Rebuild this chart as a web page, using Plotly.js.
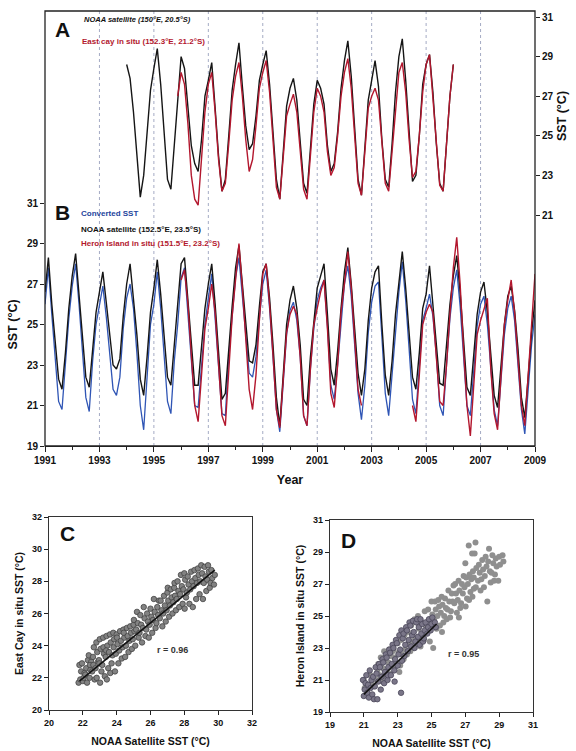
<!DOCTYPE html>
<html>
<head>
<meta charset="utf-8">
<script src="https://cdn.plot.ly/plotly-3.0.1.min.js"></script>
<style>html,body{margin:0;padding:0;background:#fff;}#chart{width:576px;height:751px;}</style>
</head>
<body>
<div id="chart"></div>
<script>
// ---------------- DATA ----------------
// Panel B: sampled every 1/8 year from 1991.0 to 2009.0
const tStartB = 1991, tStepB = 0.125;
const noaaB = [
26.6,28.3,26.0,24.0,22.3,21.8,23.6,25.8,
27.4,28.5,26.6,24.6,22.4,21.9,23.9,25.6,
26.6,27.6,26.1,24.5,23.0,22.8,23.3,25.4,
27.0,28.0,26.4,24.5,22.3,21.5,23.4,25.6,
26.8,28.2,26.5,24.3,22.4,22.0,24.0,25.7,
28.0,28.3,26.2,24.0,22.0,22.0,23.8,25.8,
27.0,28.0,26.0,23.8,21.3,21.6,24.0,25.9,
27.8,28.9,27.0,25.2,23.2,23.1,24.0,25.9,
27.6,28.0,26.3,24.0,21.4,20.0,22.8,25.0,
26.2,26.9,25.8,24.0,21.3,21.0,23.4,25.3,
26.8,27.4,28.0,25.5,22.8,22.0,23.7,25.8,
27.6,28.8,27.0,24.8,22.6,21.5,22.8,25.2,
26.8,27.6,27.9,25.0,22.5,21.5,23.2,25.5,
27.2,28.6,26.8,24.5,22.4,21.8,23.6,25.8,
26.5,27.9,26.0,24.2,22.1,22.0,24.0,26.0,
27.4,28.4,26.6,24.0,21.9,21.5,23.5,25.5,
26.6,27.1,25.6,23.6,21.5,20.9,23.0,25.0,
26.4,26.9,25.7,23.8,21.4,20.4,22.4,24.6,
26.2];
const convertedB = [
26.0,27.8,25.5,23.4,21.2,20.8,23.0,25.3,
26.9,28.0,26.0,23.9,21.4,20.7,23.2,25.0,
25.9,26.9,25.4,23.6,21.8,21.5,22.4,24.8,
26.3,27.0,25.8,23.6,21.0,19.8,22.6,25.0,
26.0,27.6,25.8,23.5,21.2,20.6,23.2,25.0,
27.3,27.8,25.6,23.3,21.0,20.9,22.9,25.0,
26.3,27.5,25.3,23.1,20.6,20.5,23.4,25.4,
27.3,28.3,26.4,24.4,22.6,22.4,23.4,25.3,
27.0,27.7,25.8,23.4,20.8,19.7,22.3,24.5,
25.7,26.1,25.2,23.4,20.5,20.0,22.8,24.8,
26.2,26.8,27.2,24.9,22.0,21.3,23.0,25.2,
27.0,27.9,26.4,24.0,21.6,20.3,22.0,24.6,
26.1,26.9,27.1,24.4,21.6,20.5,22.5,24.9,
26.6,28.1,26.2,23.8,21.3,20.6,22.8,25.2,
25.8,26.5,25.4,23.5,21.0,20.5,23.0,25.3,
26.8,27.7,25.9,23.3,21.0,20.5,22.8,24.9,
26.0,26.4,25.0,23.0,20.8,20.0,22.4,24.5,
25.8,26.4,25.2,23.2,20.8,19.6,21.8,24.0,
25.5];
const heronB = [
null,null,null,null,null,null,null,null,
null,null,null,null,null,null,null,null,
null,null,null,null,null,null,null,null,
null,null,null,null,null,null,null,null,
null,null,null,null,null,null,null,null,
27.2,27.7,26.0,23.6,21.0,20.2,22.6,24.8,
25.8,27.0,25.6,23.0,20.5,20.0,22.8,25.4,
27.2,29.0,26.8,24.5,21.8,20.8,22.5,25.2,
27.5,28.0,26.0,23.5,20.8,19.9,22.4,24.6,
25.5,25.9,25.5,23.4,20.5,20.0,22.8,25.0,
25.8,26.6,27.2,24.8,21.6,20.9,23.0,25.6,
27.0,28.6,26.8,24.2,21.8,21.0,null,null,
null,null,null,null,null,null,null,null,
null,null,null,null,21.0,20.2,22.5,25.0,
25.6,26.0,25.6,23.4,21.2,21.0,23.0,25.5,
27.8,29.3,27.0,23.8,21.0,19.5,22.0,24.5,
25.2,25.7,26.3,22.8,20.6,19.8,22.6,25.0,
26.2,27.2,25.6,23.2,21.0,20.0,22.5,25.0,
27.5];

// Panel A: sampled every 1/8 year from 1994.0 to 2006.0
const tStartA = 1994, tStepA = 0.125;
const noaaA = [
28.6,27.9,26.2,24.0,21.9,23.0,25.2,27.3,
28.4,29.4,27.6,25.0,22.8,22.3,24.6,27.2,
29.0,28.4,26.5,24.5,23.6,23.2,24.8,27.0,
27.8,28.7,26.4,24.0,22.2,22.8,25.0,27.3,
28.6,29.7,27.5,25.5,24.3,24.6,26.0,27.8,
28.6,29.3,27.6,25.0,22.8,21.8,24.0,26.5,
27.4,27.9,26.8,24.6,22.6,22.1,24.4,26.6,
27.8,27.4,26.6,24.5,23.2,23.6,25.2,27.4,
28.8,29.8,28.0,25.2,22.8,22.0,24.2,26.8,
27.8,28.8,27.5,24.8,22.8,22.4,24.6,27.2,
29.0,29.9,27.8,25.0,22.7,23.0,25.0,27.6,
28.6,29.1,27.2,24.6,22.6,22.2,24.5,27.0,
28.6];
const eastCayA = [
null,null,null,null,null,null,null,null,
null,null,null,null,null,null,null,27.0,
28.2,27.6,25.6,23.0,21.8,21.5,23.8,26.2,
27.6,28.2,26.2,23.8,22.2,22.6,24.6,26.8,
28.0,28.7,27.0,24.8,23.2,23.8,25.5,27.4,
28.2,28.8,27.2,24.6,22.4,21.8,23.8,26.0,
26.6,27.1,26.2,24.2,22.3,21.8,24.0,26.2,
27.4,27.0,26.2,24.2,23.0,23.4,25.0,27.0,
28.2,28.9,27.4,24.8,22.6,22.0,24.0,26.4,
27.0,27.4,26.8,24.5,22.6,22.2,24.2,26.6,
28.2,28.7,27.2,24.8,22.9,23.2,25.0,27.2,
28.6,29.1,27.0,24.5,22.5,22.2,24.5,27.0,
28.6];

const yearTicks = [1991,1993,1995,1997,1999,2001,2003,2005,2007,2009];

// Panel C: NOAA satellite (x) vs East Cay in situ (y)
const cNoaa = [
21.75,21.85,21.9,21.8,
22.0,22.1,21.95,22.05,
22.2,22.3,22.15,22.25,
22.4,22.45,22.35,22.5,22.42,
22.6,22.65,22.55,22.7,22.62,
22.8,22.85,22.75,22.9,22.82,
23.0,23.05,22.95,23.1,23.02,22.98,
23.2,23.25,23.15,23.3,23.22,
23.4,23.45,23.35,23.5,23.42,23.38,
23.6,23.65,23.55,23.7,23.62,
23.8,23.85,23.75,23.9,23.82,
24.0,24.05,23.95,24.1,24.02,
24.2,24.25,24.15,24.3,
24.4,24.45,24.35,24.5,24.42,
24.6,24.65,24.55,24.7,
24.8,24.85,24.75,24.9,
25.0,25.05,24.95,25.1,25.02,
25.2,25.25,25.15,25.3,
25.4,25.45,25.35,25.5,
25.6,25.65,25.55,25.7,
25.8,25.85,25.75,25.9,
26.0,26.05,25.95,26.1,
26.2,26.25,26.15,26.3,
26.4,26.45,26.35,26.5,
26.6,26.65,26.55,26.7,
26.8,26.85,26.75,26.9,
27.0,27.05,26.95,27.1,27.02,
27.2,27.25,27.15,27.3,
27.4,27.45,27.35,27.5,27.42,
27.6,27.65,27.55,27.7,
27.8,27.85,27.75,27.9,
28.0,28.05,27.95,28.1,28.02,
28.2,28.25,28.15,28.3,
28.4,28.45,28.35,28.5,
28.6,28.65,28.55,28.7,
28.8,28.85,28.75,28.9,
29.0,29.05,28.95,29.1,
29.2,29.25,29.15,29.3,
29.4,29.45,29.35,29.5,
29.6,29.65,29.55,
29.8,29.75];
const cEastCay = [
21.7,21.9,22.4,22.8,
21.8,22.3,22.9,22.0,
22.6,23.1,22.2,21.7,
22.0,22.5,23.4,23.0,22.8,
23.3,23.9,22.4,21.9,22.8,
24.2,23.6,22.6,23.0,22.0,
24.4,23.8,23.1,22.4,21.7,22.9,
24.5,23.5,22.8,22.1,23.9,
24.6,24.0,23.3,22.6,21.9,23.7,
24.7,24.2,23.6,22.9,22.3,
24.8,24.4,23.4,22.4,23.9,
24.7,24.1,23.5,22.9,24.5,
24.9,24.3,23.7,23.2,
25.0,24.5,23.9,23.3,24.8,
25.1,24.6,24.0,23.6,
25.2,24.8,24.3,23.8,
25.3,24.9,24.4,24.0,25.6,
26.1,25.4,25.0,24.5,
25.9,25.3,24.8,24.2,
26.4,25.7,25.1,24.6,
26.0,25.5,25.0,24.5,
26.3,25.8,25.3,24.8,
26.9,26.1,25.6,25.1,
26.4,25.9,25.4,26.8,
26.8,26.2,25.7,25.2,
27.1,26.5,26.0,25.5,
27.3,26.8,26.2,25.8,27.6,
27.5,27.0,26.5,26.0,
27.6,27.1,26.7,26.2,27.9,
28.0,27.4,26.9,26.4,
28.4,27.7,27.2,26.6,
28.5,28.1,27.5,27.0,26.3,
28.3,27.8,27.3,26.6,
28.6,28.0,27.5,26.4,
28.7,28.2,27.7,26.9,
28.8,28.4,27.9,27.2,
29.0,28.5,28.0,26.9,
28.9,28.3,27.9,27.4,
29.0,28.6,28.1,27.6,
28.7,28.2,27.9,
28.4,27.8];
const cFitX = [21.8, 29.8];
const cFitY = [21.8, 28.7];

// Panel D: NOAA satellite (x) vs Heron Island in situ (y)
const dNoaaLight = [
21.0,21.05, 21.4,21.45, 21.8,21.85,21.75,
22.0,22.05,21.95,22.1, 22.2,22.25,22.15,22.3,
22.4,22.45,22.35,22.5, 22.6,22.65,22.55,22.7,
22.8,22.85,22.75, 23.0,23.05,22.95,23.1,
23.2,23.25,23.15, 23.4,23.45,23.35, 23.6,23.65,23.55,
23.8,23.85,23.75, 24.0,24.05,23.95,24.1, 24.2,24.25,24.15,
24.4,24.45,24.35, 24.6,24.65,24.55, 24.8,24.85,24.75,24.9,
25.0,25.05,24.95,25.1, 25.2,25.25,25.15,25.3,
25.4,25.45,25.35,25.5, 25.6,25.65,25.55,25.7,25.62,
25.8,25.85,25.75,25.9, 26.0,26.05,25.95,26.1,
26.2,26.25,26.15,26.3, 26.4,26.45,26.35,26.5,
26.6,26.65,26.55,26.7,26.62, 26.8,26.85,26.75,26.9,
27.0,27.05,26.95,27.1,27.02, 27.2,27.25,27.15,27.3,27.22,
27.4,27.45,27.35,27.5,27.42, 27.6,27.55,27.65,27.5,27.62,
27.8,27.85,27.75,27.9, 28.0,28.05,27.95,28.1,
28.2,28.25,28.15,28.3, 28.4,28.35,28.45,28.5,
28.6,28.65,28.55,28.7, 28.8,28.85,28.75,
29.0,29.05,28.95, 29.2,29.25];
const dHeronLight = [
21.0,20.5, 21.3,20.8, 21.5,22.0,21.0,
22.4,21.8,21.3,20.9, 22.8,22.3,21.7,21.2,
22.6,22.1,21.5,22.9, 22.5,21.9,21.4,22.8,
22.4,21.8,22.9, 23.3,22.7,22.0,21.5,
23.5,22.6,21.9, 23.8,22.9,22.3, 24.0,23.2,22.6,
24.4,23.4,22.8, 24.8,23.6,23.0,23.3, 25.0,24.2,23.5,
24.6,23.8,23.1, 25.3,24.4,23.5, 25.4,24.7,24.0,23.4,
25.9,25.1,24.4,23.0, 25.9,25.4,24.8,24.2,
26.0,25.6,25.0,24.4, 26.2,25.7,25.2,24.6,24.0,
26.1,25.5,25.0,24.8, 26.6,25.9,25.4,24.9,
26.4,25.9,25.3,26.9, 27.0,26.4,25.8,25.2,
27.2,26.6,26.0,25.5,24.9, 27.0,26.4,25.8,27.5,
28.3,27.4,26.8,26.1,25.6, 29.4,27.6,27.0,26.5,26.0,
28.9,27.8,27.3,26.7,26.2, 29.6,28.9,28.0,27.4,26.8,
28.2,27.7,27.2,26.6, 28.5,27.9,27.3,26.8,
28.7,28.1,27.5,25.9, 29.2,28.4,27.8,27.1,
28.8,28.3,27.7,27.2, 28.6,28.1,27.6,
28.7,28.2,27.2, 28.8,28.4];
const dNoaaDark = [
21.0,21.05,20.95,21.1, 21.2,21.25,21.15,21.3,
21.4,21.45,21.35,21.5, 21.6,21.65,21.55,21.7,
21.8,21.85,21.75,21.9, 22.0,22.05,21.95,22.1,
22.2,22.25,22.15,22.3, 22.4,22.45,22.35,22.5,22.42,
22.6,22.65,22.55,22.7, 22.8,22.85,22.75,22.9,22.82,
23.0,23.05,22.95,23.1, 23.2,23.25,23.15,23.3,23.22,
23.4,23.45,23.35,23.5, 23.6,23.65,23.55,23.7,
23.8,23.85,23.75,23.9, 24.0,24.05,23.95,24.1,
24.2,24.25,24.15,24.3, 24.4,24.45,24.35,24.5,
24.6,24.65,24.55, 24.8,24.85,24.75, 25.0,25.05,24.95,
25.2,25.25];
const dHeronDark = [
20.0,20.4,21.0,20.8, 20.2,20.7,21.3,19.9,
20.5,21.0,21.6,20.1, 19.8,20.6,21.2,21.8,
19.8,20.9,21.4,22.0, 20.4,21.2,21.8,22.3,
20.8,21.5,22.1,22.6, 21.0,21.8,22.4,22.9,21.3,
21.3,22.0,22.7,23.2, 21.6,22.3,23.0,23.5,20.9,
21.9,22.6,23.3,23.8, 20.2,22.2,22.9,23.6,24.1,
22.5,23.2,23.9,24.3, 22.8,23.5,24.1,24.6,
23.1,23.8,24.4,24.7, 23.0,23.4,24.0,24.6,
23.7,24.3,24.8,23.2, 23.9,24.5,24.8,23.4,
24.1,24.6,23.6, 24.3,24.8,23.9, 24.5,24.9,24.1,
24.6,24.3];
const dFitX = [21.0, 25.3];
const dFitY = [20.1, 24.5];

// ---------------- BUILD ----------------
function grid(start, step, n){ const t=[]; for(let i=0;i<n;i++) t.push(+(start+i*step).toFixed(3)); return t; }
const tB = grid(tStartB, tStepB, noaaB.length);
const tA = grid(tStartA, tStepA, noaaA.length);

const W = 576, H = 751;
const px = v => v / W;
const py = v => 1 - v / H;

const FONT = 'Arial, "Liberation Sans", sans-serif';
const BLACK = '#151515', RED = '#b3172e', BLUE = '#2f55b5';

const tickFont = {family: FONT, size: 10, color: '#111', weight: 'bold'};
const titleFont = {family: FONT, size: 12.5, color: '#111', weight: 'bold'};

const traces = [
  {x: tB, y: convertedB, type: 'scatter', mode: 'lines', line: {color: BLUE, width: 1.3}, xaxis: 'x', yaxis: 'y', hoverinfo: 'skip'},
  {x: tB, y: noaaB, type: 'scatter', mode: 'lines', line: {color: BLACK, width: 1.4}, xaxis: 'x', yaxis: 'y', hoverinfo: 'skip'},
  {x: tB, y: heronB, type: 'scatter', mode: 'lines', line: {color: RED, width: 1.4}, xaxis: 'x', yaxis: 'y', connectgaps: false, hoverinfo: 'skip'},
  {x: tA, y: noaaA, type: 'scatter', mode: 'lines', line: {color: BLACK, width: 1.4}, xaxis: 'x', yaxis: 'y2', hoverinfo: 'skip'},
  {x: tA, y: eastCayA, type: 'scatter', mode: 'lines', line: {color: RED, width: 1.4}, xaxis: 'x', yaxis: 'y2', connectgaps: false, hoverinfo: 'skip'},
  {x: cNoaa, y: cEastCay, type: 'scatter', mode: 'markers', xaxis: 'x3', yaxis: 'y3',
   marker: {size: 5.5, color: '#828282', line: {color: '#444', width: 0.8}}, hoverinfo: 'skip'},
  {x: cFitX, y: cFitY, type: 'scatter', mode: 'lines', xaxis: 'x3', yaxis: 'y3', line: {color: '#111', width: 1.6}, hoverinfo: 'skip'},
  {x: dNoaaLight, y: dHeronLight, type: 'scatter', mode: 'markers', xaxis: 'x4', yaxis: 'y4',
   marker: {size: 6, color: '#8f8f8f', line: {width: 0}}, hoverinfo: 'skip'},
  {x: dNoaaDark, y: dHeronDark, type: 'scatter', mode: 'markers', xaxis: 'x4', yaxis: 'y4',
   marker: {size: 5.5, color: '#7a7688', line: {color: '#4a4659', width: 0.8}}, hoverinfo: 'skip'},
  {x: dFitX, y: dFitY, type: 'scatter', mode: 'lines', xaxis: 'x4', yaxis: 'y4', line: {color: '#111', width: 1.6}, hoverinfo: 'skip'}
];

const tsX0 = px(45), tsX1 = px(535);
const frameTop = py(11), frameBot = py(446);

const shapes = [
  {type: 'rect', xref: 'paper', yref: 'paper', x0: tsX0, x1: tsX1, y0: frameBot, y1: frameTop,
   line: {color: '#222', width: 1.3}, layer: 'above'}
];
yearTicks.slice(1, -1).forEach(yr => {
  shapes.push({type: 'line', xref: 'x', yref: 'paper', x0: yr, x1: yr, y0: frameBot, y1: frameTop,
    line: {color: '#a4abc4', width: 1, dash: 'dot'}, layer: 'below'});
});

function ann(text, x, y, opts){
  return Object.assign({text: text, x: x, y: y, xref: 'paper', yref: 'paper', showarrow: false,
    xanchor: 'left', yanchor: 'middle', font: {family: FONT, size: 8, color: '#111', weight: 'bold'}}, opts || {});
}

const annotations = [
  ann('A', px(53), py(30), {font: {family: FONT, size: 21, color: '#111', weight: 'bold'}}),
  ann('B', px(53), py(212), {font: {family: FONT, size: 21, color: '#111', weight: 'bold'}}),
  ann('NOAA satellite (150°E, 20.5°S)', px(82), py(20), {font: {family: FONT, size: 7.5, color: '#111', weight: 'bold', style: 'italic'}}),
  ann('East cay in situ (152.3°E, 21.2°S)', px(80), py(41), {font: {family: FONT, size: 8, color: RED, weight: 'bold'}}),
  ann('Converted SST', px(79), py(214), {font: {family: FONT, size: 8, color: '#23439c', weight: 'bold'}}),
  ann('NOAA satellite (152.5°E, 23.5°S)', px(79), py(229), {font: {family: FONT, size: 8, color: '#111', weight: 'bold'}}),
  ann('Heron Island in situ (151.5°E, 23.2°S)', px(79), py(243), {font: {family: FONT, size: 8, color: RED, weight: 'bold'}}),
  {text: 'C', x: 20.55, y: 31.0, xref: 'x3', yref: 'y3', showarrow: false, xanchor: 'left', yanchor: 'middle',
   font: {family: FONT, size: 21, color: '#111', weight: 'bold'}},
  {text: 'D', x: 19.55, y: 29.75, xref: 'x4', yref: 'y4', showarrow: false, xanchor: 'left', yanchor: 'middle',
   font: {family: FONT, size: 21, color: '#111', weight: 'bold'}},
  {text: 'r = 0.96', x: 27.3, y: 23.7, xref: 'x3', yref: 'y3', showarrow: false,
   font: {family: FONT, size: 9, color: '#333', weight: 'bold'}},
  {text: 'r = 0.95', x: 26.9, y: 22.6, xref: 'x4', yref: 'y4', showarrow: false,
   font: {family: FONT, size: 9, color: '#333', weight: 'bold'}}
];

function sAxis(domain, range, anchor, title, standoff){
  return {domain: domain, range: range, anchor: anchor, tickmode: 'linear', tick0: range[0], dtick: 2,
    ticks: 'outside', ticklen: 4, tickwidth: 1, tickcolor: '#222', showline: true, mirror: true,
    linecolor: '#333', linewidth: 1.1, showgrid: false, zeroline: false, automargin: false,
    tickfont: {family: FONT, size: 9, color: '#111', weight: 'bold'},
    title: {text: title, font: {family: FONT, size: 10.5, color: '#111', weight: 'bold'}, standoff: standoff}};
}

const layout = {
  width: W, height: H,
  margin: {l: 0, r: 0, t: 0, b: 0, pad: 0},
  paper_bgcolor: '#ffffff', plot_bgcolor: 'rgba(0,0,0,0)',
  showlegend: false,
  xaxis: {domain: [tsX0, tsX1], range: [1991, 2009], anchor: 'y', tickmode: 'array', tickvals: yearTicks,
    ticks: 'outside', ticklen: 5, tickwidth: 1, tickcolor: '#222', showline: true, linecolor: '#222', linewidth: 1.3,
    showgrid: false, zeroline: false, automargin: false, tickfont: tickFont,
    minor: {ticks: 'outside', tick0: 1991, dtick: 1, ticklen: 3, tickcolor: '#222', showgrid: false},
    title: {text: 'Year', font: titleFont, standoff: 10}},
  yaxis: {domain: [py(446), py(203)], range: [19, 31], anchor: 'x', side: 'left', tickmode: 'linear', tick0: 19, dtick: 2,
    ticks: 'outside', ticklen: 4, tickwidth: 1, tickcolor: '#222', showline: false, showgrid: false, zeroline: false,
    automargin: false, tickfont: tickFont, title: {text: 'SST (°C)', font: titleFont, standoff: 6}},
  yaxis2: {domain: [py(215), py(17)], range: [21, 31], anchor: 'x', side: 'right', tickmode: 'linear', tick0: 21, dtick: 2,
    ticks: 'outside', ticklen: 4, tickwidth: 1, tickcolor: '#222', showline: false, showgrid: false, zeroline: false,
    automargin: false, tickfont: tickFont, title: {text: 'SST (°C)', font: titleFont, standoff: 4}},
  xaxis3: sAxis([px(49), px(252)], [20, 32], 'y3', 'NOAA Satellite SST (°C)', 10),
  yaxis3: sAxis([py(710), py(517)], [20, 32], 'x3', 'East Cay in situ SST (°C)', 6),
  xaxis4: sAxis([px(330), px(533)], [19, 31], 'y4', 'NOAA Satellite SST (°C)', 10),
  yaxis4: sAxis([py(712), py(520)], [19, 31], 'x4', 'Heron Island in situ SST (°C)', 6),
  shapes: shapes,
  annotations: annotations
};

Plotly.newPlot('chart', traces, layout, {staticPlot: true, displayModeBar: false});
</script>
</body>
</html>
